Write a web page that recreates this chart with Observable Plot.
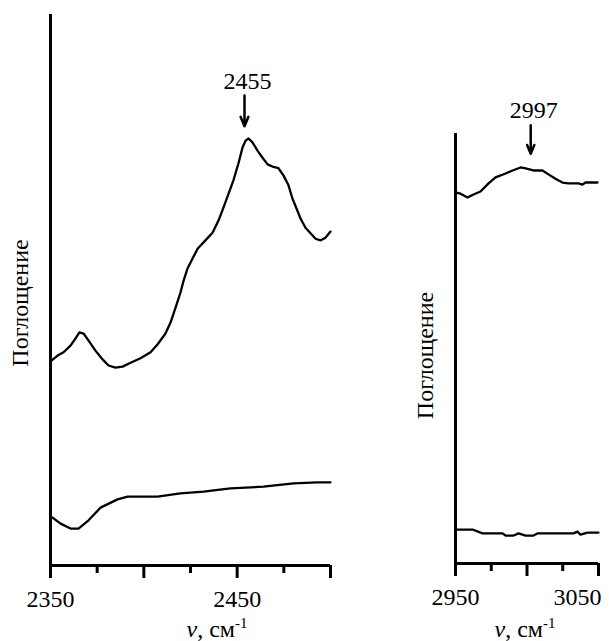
<!DOCTYPE html>
<html>
<head>
<meta charset="utf-8">
<script src="https://cdn.jsdelivr.net/npm/d3@7"></script>
<script src="https://cdn.jsdelivr.net/npm/@observablehq/plot@0.6"></script>
<style>
  html, body { margin: 0; padding: 0; background: #fff; }
  #wrap { position: relative; width: 609px; height: 641px; overflow: hidden; }
  #left, #right { position: absolute; top: 0; }
  #left { left: 0; }
  #right { left: 395px; }
  svg text { font-family: "Liberation Serif", "Times New Roman", Times, serif; }
</style>
</head>
<body>
<div id="wrap"><div id="left"></div><div id="right"></div></div>
<script>
// ---- Data (wavenumber, cm^-1 ; absorbance, arbitrary units) ----
const leftUpperNu = [2350.5,2353.8,2357.0,2360.7,2363.4,2365.5,2367.7,2370.4,2374.1,2377.9,2381.1,2384.8,2388.6,2392.9,2398.2,2403.6,2407.3,2411.6,2414.3,2417.0,2419.6,2421.3,2423.4,2426.1,2428.8,2433.0,2436.8,2440.0,2442.7,2445.4,2448.0,2450.7,2452.9,2454.5,2456.1,2458.2,2460.9,2463.6,2466.3,2468.9,2472.1,2474.8,2477.5,2479.6,2481.8,2483.9,2486.6,2489.3,2492.0,2494.6,2497.3,2500.0];
const leftUpperA  = [0.372,0.381,0.387,0.399,0.412,0.423,0.421,0.408,0.390,0.374,0.363,0.359,0.361,0.368,0.376,0.387,0.401,0.421,0.441,0.468,0.495,0.517,0.539,0.557,0.575,0.590,0.604,0.626,0.650,0.675,0.699,0.730,0.759,0.771,0.775,0.768,0.753,0.740,0.728,0.724,0.721,0.708,0.690,0.666,0.648,0.630,0.613,0.603,0.593,0.590,0.595,0.606];
const leftLowerNu = [2351.1,2355.4,2360.7,2365.0,2370.4,2376.8,2385.9,2391.3,2407.3,2419.6,2432.0,2446.4,2464.1,2480.2,2493.0,2500.0];
const leftLowerA  = [0.087,0.076,0.067,0.067,0.082,0.105,0.120,0.125,0.125,0.131,0.134,0.140,0.143,0.149,0.151,0.151];

const rightUpperNu = [2950.0,2953.5,2958.4,2962.6,2967.5,2973.1,2978.0,2985.0,2989.9,2995.5,2999.0,3004.5,3010.8,3015.0,3019.9,3024.8,3029.0,3036.0,3038.8,3040.9,3049.3];
const rightUpperA  = [0.863,0.860,0.851,0.858,0.865,0.884,0.898,0.907,0.914,0.921,0.919,0.914,0.914,0.905,0.895,0.886,0.884,0.884,0.881,0.886,0.886];
const rightLowerNu = [2950.0,2961.9,2968.9,2982.9,2985.0,2990.6,2994.1,2999.0,3004.5,3007.3,3032.5,3035.3,3037.4,3042.3,3050.0];
const rightLowerA  = [0.079,0.079,0.070,0.070,0.065,0.065,0.070,0.065,0.065,0.070,0.070,0.074,0.067,0.072,0.072];

const leftMajorTicks = [2350, 2400, 2450, 2500];
const leftMinorTicks = [2375, 2425, 2475];
const leftTickLabels = [2350, 2450];
const rightMajorTicks = [2950, 3000, 3050];
const rightMinorTicks = [2975, 3025];
const rightTickLabels = [2950, 3050];

const leftPeak = [{nu: 2455, label: "2455", textA: 0.864, a1: 0.853, a2: 0.797}];
const rightPeak = [{nu: 2997, label: "2997", textA: 1.035, a1: 1.019, a2: 0.953}];

const yLabel = "Поглощение";

const zip = (xs, ys) => xs.map((x, i) => ({nu: x, a: ys[i]}));
const FONT = "Liberation Serif, Times New Roman, Times, serif";
const INK = "#000";

function panel({width, marginLeft, marginRight, marginTop, marginBottom, domain, upper, lower,
                major, minor, labels, peak, peakDx, labelDy}) {
  const lastLabel = labels[labels.length - 1];
  const firstLabels = labels.slice(0, -1);
  const endAnchored = domain[1] === lastLabel && width < 300;
  return Plot.plot({
    width, height: 641,
    marginLeft, marginRight, marginTop, marginBottom,
    style: {fontFamily: FONT, fontSize: "24px", color: INK, background: "transparent", overflow: "visible"},
    x: {domain, axis: null},
    y: {domain: [0, 1], axis: null},
    marks: [
      Plot.ruleX([domain[0]], {stroke: INK, strokeWidth: 3}),
      Plot.ruleY([0], {stroke: INK, strokeWidth: 3}),
      Plot.axisX(major, {anchor: "bottom", label: null, tickSize: 13, strokeWidth: 3, stroke: INK, tickFormat: () => ""}),
      Plot.axisX(minor, {anchor: "bottom", label: null, tickSize: 8, strokeWidth: 3, stroke: INK, tickFormat: () => ""}),
      Plot.axisX(endAnchored ? firstLabels : labels, {anchor: "bottom", label: null, tickSize: 0, tickPadding: 24, fontSize: 24, fill: INK, tickFormat: d => String(d)}),
      endAnchored ? Plot.axisX([lastLabel], {anchor: "bottom", label: null, tickSize: 0, tickPadding: 24, fontSize: 24, fill: INK, textAnchor: "end", dx: 3, tickFormat: d => String(d)}) : null,
      Plot.line(upper, {x: "nu", y: "a", stroke: INK, strokeWidth: 2.3}),
      Plot.line(lower, {x: "nu", y: "a", stroke: INK, strokeWidth: 2.3}),
      Plot.arrow(peak, {x1: "nu", x2: "nu", y1: "a1", y2: "a2", dx: peakDx, stroke: INK, strokeWidth: 2.5, headLength: 10, headAngle: 45}),
      Plot.text(peak, {x: "nu", y: "textA", text: "label", dx: peakDx + 3, lineAnchor: "bottom", fontSize: 24, fill: INK}),
      Plot.text([yLabel], {frameAnchor: "left", text: d => d, rotate: -90, dx: -30, dy: labelDy, textAnchor: "middle", lineAnchor: "middle", fontSize: 24, fill: INK})
    ]
  });
}

function addXLabel(svg, cx) {
  const t = d3.select(svg).append("text")
    .attr("x", cx).attr("y", 637)
    .attr("text-anchor", "middle")
    .attr("font-family", FONT)
    .attr("font-size", 24)
    .attr("fill", INK);
  t.append("tspan").attr("font-style", "italic").text("ν");
  t.append("tspan").text(", см");
  t.append("tspan").attr("font-size", 15).attr("dy", -9).text("-1");
}

const left = panel({
  width: 345, marginLeft: 50, marginRight: 15, marginTop: 14, marginBottom: 76,
  domain: [2350, 2500], upper: zip(leftUpperNu, leftUpperA), lower: zip(leftLowerNu, leftLowerA),
  major: leftMajorTicks, minor: leftMinorTicks, labels: leftTickLabels, peak: leftPeak, peakDx: -2, labelDy: 13
});
addXLabel(left, 217);
document.getElementById("left").appendChild(left);

const right = panel({
  width: 214, marginLeft: 60, marginRight: 11, marginTop: 133, marginBottom: 78,
  domain: [2950, 3050], upper: zip(rightUpperNu, rightUpperA), lower: zip(rightLowerNu, rightLowerA),
  major: rightMajorTicks, minor: rightMinorTicks, labels: rightTickLabels, peak: rightPeak, peakDx: 8, labelDy: 7
});
addXLabel(right, 130);
document.getElementById("right").appendChild(right);
</script>
</body>
</html>
